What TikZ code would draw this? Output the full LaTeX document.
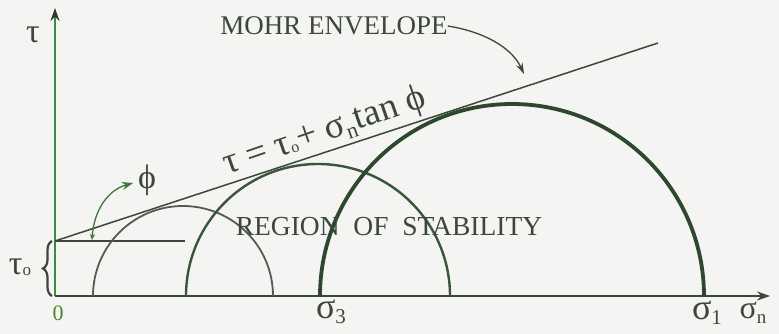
\documentclass[tikz,border=0pt]{standalone}
\usepackage{fontspec}
\setmainfont{Liberation Serif}
\usetikzlibrary{arrows.meta,decorations.pathreplacing}
\definecolor{bg}{RGB}{244,244,242}
\definecolor{ink}{RGB}{60,70,60}
\definecolor{axisgreen}{RGB}{60,140,60}
\definecolor{zerogreen}{RGB}{80,130,50}
\definecolor{darkcirc}{RGB}{45,72,45}
\definecolor{midcirc}{RGB}{58,85,58}
\definecolor{smallcirc}{RGB}{85,90,85}
\begin{document}
\begin{tikzpicture}[x=1pt,y=-1pt,
  lbl/.style={inner sep=0pt,text=ink},
  axisline/.style={line width=1.8pt},
  envline/.style={line width=1.5pt,draw=ink},
]
\fill[bg] (0,0) rectangle (779,334);
\useasboundingbox (0,0) rectangle (779,334);
% coordinates
\coordinate (O) at (55,296);
\coordinate (ytop) at (55,8);
\coordinate (xend) at (770,296);
\coordinate (T0) at (55,241);
\coordinate (envend) at (658,43);
\coordinate (hend) at (185,241);
% axes
\draw[axisline,draw=axisgreen,-{Stealth[length=13pt,width=9pt,color=ink!80!black]}] (O) -- (ytop);
\draw[axisline,draw=ink,-{Stealth[length=13pt,width=9pt]}] (O) -- (xend);
% envelope
\draw[envline] (T0) -- (envend);
\draw[line width=1.5pt,draw=ink] (T0) -- (hend);
% circles
\draw[line width=1.8pt,draw=smallcirc] (93,296) arc[start angle=180,end angle=360,radius=90];
\draw[line width=2.4pt,draw=midcirc] (186,296) arc[start angle=180,end angle=360,radius=132];
\draw[line width=3.8pt,draw=darkcirc] (320,296) arc[start angle=180,end angle=360,radius=192];
% labels
\node[lbl,font=\fontsize{34}{34}\selectfont] (tau) at (33,35) {τ};
\node[lbl,font=\fontsize{22}{22}\selectfont,text=zerogreen] (zero) at (58,313) {0};
\node[lbl,font=\fontsize{34}{34}\selectfont] (tau0) at (20,267) {τ\raisebox{-1pt}{\fontsize{17}{17}\selectfont o}};
\draw[decorate,decoration={brace,amplitude=9pt},line width=2.2pt,draw=ink] (52,296) -- (52,241);
\node[lbl,font=\fontsize{36}{36}\selectfont] (s3) at (331,312) {σ\raisebox{-5pt}{\fontsize{21}{21}\selectfont 3}};
\node[lbl,font=\fontsize{36}{36}\selectfont] (s1) at (707,313) {σ\raisebox{-5pt}{\fontsize{21}{21}\selectfont 1}};
\node[lbl,font=\fontsize{32}{32}\selectfont] (sn) at (753,313) {σ\raisebox{-5pt}{\fontsize{19}{19}\selectfont n}};
\node[lbl,font=\fontsize{27}{27}\selectfont] (mohr) at (334,26) {MOHR ENVELOPE};
\node[lbl,font=\fontsize{27.5}{27.5}\selectfont] (region) at (389,227) {REGION\ \ OF\ \ STABILITY};
\node[lbl,font=\fontsize{34}{34}\selectfont] (phi) at (147,180) {ϕ};
\node[lbl,font=\fontsize{37}{37}\selectfont,rotate=19,anchor=base west] (eq) at (227,175)
  {τ = τ\raisebox{-1pt}{\fontsize{16}{16}\selectfont o}+ σ\raisebox{-6pt}{\fontsize{22}{22}\selectfont n}tan ϕ};
% arrows
\draw[line width=1.3pt,draw=ink,-{Stealth[length=11pt,width=7pt]}] (mohr.east) .. controls (485,32) and (512,48) .. (524,74);
\draw[line width=1.3pt,draw=axisgreen!70!ink,{Stealth[length=6pt,width=5pt]}-{Stealth[length=11pt,width=8pt]}] (92,240) .. controls (94,210) and (108,190) .. (133,183);
\end{tikzpicture}
\end{document}
